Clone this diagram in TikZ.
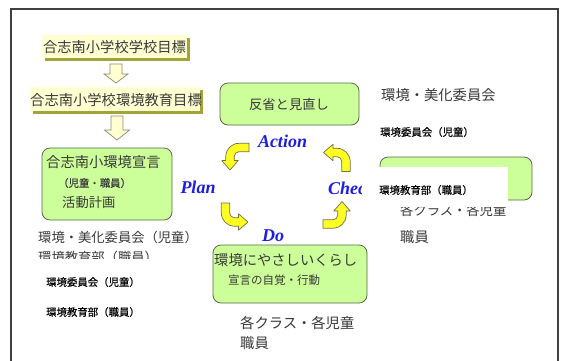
\documentclass[tikz,border=0pt]{standalone}
\usepackage{fontspec}
\setmainfont{Noto Sans CJK JP}
\newfontfamily\smallheavy[FakeBold=0.5]{Noto Sans CJK JP}
\newfontfamily\pdcaserif{Liberation Serif}
\definecolor{tgray}{HTML}{383838}
\definecolor{framegray}{HTML}{404040}
\definecolor{boxgreen}{HTML}{CCFF99}
\definecolor{boxedge}{HTML}{5A6650}
\definecolor{ylight}{HTML}{FFFFD2}
\definecolor{yshadow}{HTML}{A3A33C}
\definecolor{arrowy}{HTML}{FFFF22}
\definecolor{arrowedge}{HTML}{6E6E50}
\definecolor{pdcablue}{HTML}{1E1EDC}
\tikzset{
  lbl/.style={inner sep=0pt,anchor=west,text=tgray},
  lblc/.style={inner sep=0pt,anchor=center,text=tgray},
  blk/.style={inner sep=0pt,anchor=west,text=black},
  fsA/.style={font=\fontsize{14.3}{16}\selectfont},
  fsB/.style={font=\fontsize{13.3}{15}\selectfont},
  fsC/.style={font=\smallheavy\fontsize{10.4}{12}\selectfont},
  fsD/.style={font=\fontsize{11.5}{13}\selectfont},
  gbox/.style={draw=boxedge,fill=boxgreen,line width=0.8pt,rounded corners=8pt},
  ybox/.style={fill=ylight},
  yshad/.style={fill=yshadow},
  barrow/.style={draw=arrowedge!80,fill=ylight,line width=0.7pt,line join=miter},
  pdca/.style={inner sep=0pt,text=pdcablue,font=\pdcaserif\bfseries\itshape\fontsize{18}{20}\selectfont},
  cyc/.pic={
    \filldraw[fill=arrowy,draw=arrowedge,line width=0.7pt,line join=round]
      (19,-4.2) -- (9,-4.2) .. controls (1.71,-4.2) and (-4.2,1.71) .. (-4.2,9)
      -- (-4.2,13) -- (-8.2,13) -- (0,22.5) -- (8.2,13) -- (4.2,13) -- (4.2,9)
      .. controls (4.2,6.35) and (6.35,4.2) .. (9,4.2) -- (19,4.2) -- cycle;
  }
}
\begin{document}
\begin{tikzpicture}[x=1pt,y=-1pt]
\useasboundingbox (0,0) rectangle (561,360);
\fill[white] (0,0) rectangle (561,360);
% outer frame
\draw[framegray,line width=1.4pt] (11,370) -- (11,9) -- (558,9) -- (558,370);

% yellow goal boxes
\fill[yshad] (45,38) rectangle (190,61);
\fill[ybox] (42,35) rectangle (187,58);
\node[lblc,fsA] (goal1) at (114.5,47) {合志南小学校学校目標};
\fill[yshad] (33,90) rectangle (203,114);
\fill[ybox] (30,87) rectangle (200,111);
\node[lblc,fsA] (goal2) at (116,100) {合志南小学校環境教育目標};

% block arrows
\draw[barrow] (110,64) -- (122,64) -- (122,74) -- (128,74) -- (116,83) -- (104,74) -- (110,74) -- cycle;
\draw[barrow] (111,116) -- (123,116) -- (123,130) -- (129.5,130) -- (117,140) -- (104.5,130) -- (111,130) -- cycle;

% green boxes
\draw[gbox] (42,148) rectangle (172,220);
\node[lbl,fsA] (decl) at (46,162) {合志南小環境宣言};
\node[lbl,fsC] (declsub) at (58,183) {（児童・職員）};
\node[lbl,fsB] (plan) at (62,202) {活動計画};

\draw[gbox] (220,83) rectangle (359,125);
\node[lblc,fsB] (review) at (289,104) {反省と見直し};

\draw[gbox] (213,245) rectangle (367,303);
\node[lbl,fsA] (life) at (214,260) {環境にやさしいくらし};
\node[lbl,fsD] (lifesub) at (228,280) {宣言の自覚・行動};

\draw[gbox] (380,157) rectangle (532,200);

% left texts
\node[lbl,fsB] (l1) at (38,237) {環境・美化委員会（児童）};
\node[lbl,fsB] (l2) at (38,257) {環境教育部（職員）};
\fill[white] (20,258.5) rectangle (205,300);
\node[blk,fsC] (l3) at (46,282) {環境委員会（児童）};
\node[blk,fsC] (l4) at (46,312) {環境教育部（職員）};

% right texts
\node[lbl,fsA] (r1) at (381,95) {環境・美化委員会};
\node[blk,fsC] (r2) at (380,132) {環境委員会（児童）};

% PDCA words
\node[pdca] (act) at (282.5,141) {Action};
\node[pdca] (pl) at (198,187) {Plan};
\node[pdca] (dw) at (273,236) {Do};
\node[pdca,anchor=west] (chk) at (328,188) {Check};

% cycle arrows
\pic at (230,147.5) {cyc};
\pic[rotate=90] at (225.5,222) {cyc};
\pic[rotate=180] at (342,224) {cyc};
\pic[rotate=270] at (346,152.5) {cyc};

% right lower texts and cover
\node[lbl,fsB] (r3) at (400,210) {各クラス・各児童};
\fill[white] (362,167) rectangle (508,206.5);
\node[blk,fsC] (r4) at (379,190) {環境教育部（職員）};
\node[lbl,fsA] (r5) at (400,237) {職員};

% bottom texts
\node[lbl,fsA] (b1) at (240,323) {各クラス・各児童};
\node[lbl,fsA] (b2) at (240,343) {職員};
\end{tikzpicture}
\end{document}
